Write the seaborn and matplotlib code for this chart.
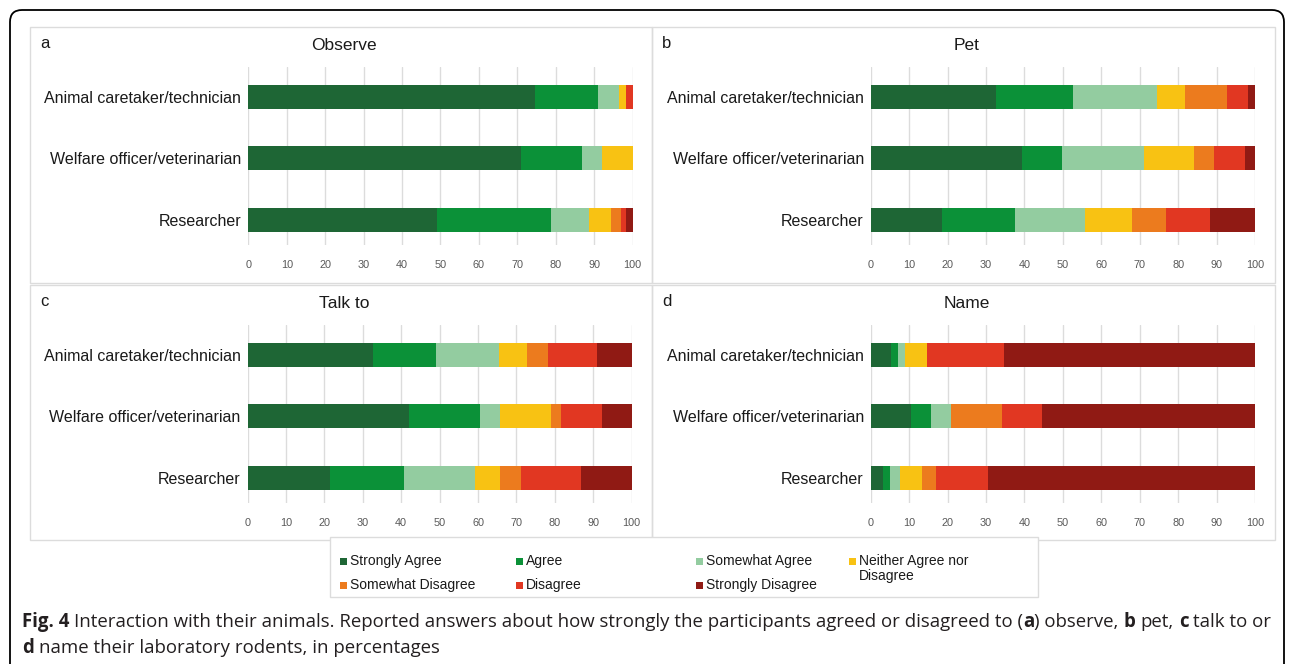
import matplotlib
matplotlib.use("Agg")
import matplotlib.pyplot as plt
from matplotlib.patches import Rectangle, FancyBboxPatch
from matplotlib.transforms import IdentityTransform
import numpy as np
import pandas as pd
import seaborn as sns

W, H = 1290, 664

roles = ["Animal caretaker/technician", "Welfare officer/veterinarian", "Researcher"]
answers = ["Strongly Agree", "Agree", "Somewhat Agree", "Neither Agree nor Disagree",
           "Somewhat Disagree", "Disagree", "Strongly Disagree"]
legend_labels = ["Strongly Agree", "Agree", "Somewhat Agree", "Neither Agree nor\nDisagree",
                 "Somewhat Disagree", "Disagree", "Strongly Disagree"]
colors = ["#1e6635", "#0b9138", "#93cca0", "#f8c213", "#ec7b1e", "#e13722", "#901a14"]

# percentages per role, in answer order
observe = [
    [74.6, 16.3, 5.5, 1.9, 0.0, 1.7, 0.0],
    [70.9, 16.0, 5.2, 7.9, 0.0, 0.0, 0.0],
    [49.0, 29.7, 9.9, 5.8, 2.7, 1.3, 1.6],
]
pet = [
    [32.6, 20.1, 21.7, 7.4, 10.9, 5.5, 1.8],
    [39.3, 10.6, 21.1, 13.1, 5.3, 8.0, 2.6],
    [18.5, 19.1, 18.2, 12.2, 8.8, 11.4, 11.8],
]
talk_to = [
    [32.7, 16.4, 16.4, 7.3, 5.3, 12.9, 9.0],
    [42.1, 18.4, 5.2, 13.3, 2.6, 10.6, 7.8],
    [21.6, 19.1, 18.6, 6.4, 5.5, 15.5, 13.3],
]
name = [
    [5.3, 1.9, 1.7, 5.7, 0.0, 20.0, 65.4],
    [10.5, 5.3, 5.2, 0.0, 13.1, 10.6, 55.3],
    [3.3, 1.6, 2.6, 5.8, 3.8, 13.3, 69.6],
]

panel_letters = ["a", "b", "c", "d"]
panel_titles = ["Observe", "Pet", "Talk to", "Name"]
panel_data = [observe, pet, talk_to, name]

sns.set_theme(style="white")
plt.rcParams["font.family"] = ["Liberation Sans", "DejaVu Sans"]

fig = plt.figure(figsize=(W / 100, H / 100), dpi=100)
fig.patch.set_facecolor("white")


def fx(x):
    return x / W


def fy(y):
    return 1 - y / H


def box(x0, y0, x1, y1, **kw):
    fig.add_artist(Rectangle((fx(x0), fy(y1)), (x1 - x0) / W, (y1 - y0) / H,
                             transform=fig.transFigure, **kw))


# outer rounded frame
frame = FancyBboxPatch((10, -20), 1274, H - 10 + 20, boxstyle="round,pad=0,rounding_size=12",
                       transform=IdentityTransform(), fill=False, edgecolor="black", linewidth=1.3)
fig.add_artist(frame)

# panel frames: (x0, y0, x1, y1) and axes spots (left, right, top, bottom)
frames = [(30, 27, 652, 283), (652, 27, 1275, 283), (30, 285, 652, 540), (652, 285, 1275, 540)]
spots = [(248.3, 632.5, 67, 245), (870.7, 1255, 67, 245),
         (247.5, 631.7, 325, 503), (870.7, 1255, 325, 503)]

for (x0, y0, x1, y1) in frames:
    box(x0, y0, x1, y1, fill=False, edgecolor="#dcdcdc", linewidth=1)


def draw_panel(ax, values):
    df = pd.DataFrame(values, index=roles, columns=answers)
    cum = df.cumsum(axis=1).reset_index(names="role")
    long = cum.melt(id_vars="role", var_name="answer", value_name="cum")
    # stack by overlaying cumulative bars, widest first
    for ans, col in reversed(list(zip(answers, colors))):
        sns.barplot(data=long[long["answer"] == ans], x="cum", y="role", order=roles,
                    color=col, saturation=1, width=0.39, linewidth=0,
                    errorbar=None, ax=ax)
    ax.set_xlim(0, 100)
    ax.set_ylim(2.41, -0.49)
    ax.set_xticks(range(0, 101, 10))
    ax.grid(axis="x", color="#dcdcdc", linewidth=1)
    ax.set_axisbelow(True)
    sns.despine(ax=ax, left=True, bottom=True)
    ax.tick_params(length=0)
    ax.tick_params(axis="x", labelsize=7.8, labelcolor="#595959", pad=11)
    ax.tick_params(axis="y", labelsize=11.5, labelcolor="#1a1a1a", pad=5)
    ax.set_xlabel("")
    ax.set_ylabel("")


for i in range(4):
    left, right, top, bottom = spots[i]
    ax = fig.add_axes([fx(left), fy(bottom), (right - left) / W, (bottom - top) / H])
    draw_panel(ax, panel_data[i])
    x0, y0, x1, y1 = frames[i]
    fig.text(fx(x0 + 10), fy(y0 + 16), panel_letters[i], fontsize=12, color="#1a1a1a",
             ha="left", va="center")
    fig.text(fx((x0 + x1) / 2 + 3), fy(y0 + 18), panel_titles[i], fontsize=12.5,
             color="#1a1a1a", ha="center", va="center")

# legend box
box(330, 537, 1038, 597, facecolor="white", edgecolor="#dcdcdc", linewidth=1, zorder=3)
col_x = [340, 516, 696, 849]
row_y = [562, 586]
order = [(0, 0), (0, 1), (0, 2), (0, 3), (1, 0), (1, 1), (1, 2)]
for lab, col, (r, c) in zip(legend_labels, colors, order):
    x, y = col_x[c], row_y[r]
    box(x, y - 4, x + 7, y + 3, facecolor=col, edgecolor="none", zorder=4)
    fig.text(fx(x + 10), fy(y - 8), lab, fontsize=10, color="#1a1a1a", ha="left", va="top",
             linespacing=1.1, zorder=4)

# caption with bold bits
cap_font = ["Open Sans", "DejaVu Sans"]
renderer = fig.canvas.get_renderer()


def text_width(s, size, weight):
    t = fig.text(0, 0, s, fontsize=size, fontweight=weight, family=cap_font)
    w = t.get_window_extent(renderer).width
    t.remove()
    return w


def rich_line(x, y, parts, size):
    for s, weight in parts:
        space = text_width("a a", size, weight) - text_width("aa", size, weight)
        if s.startswith(" "):
            x += space
        core = s.strip()
        t = fig.text(fx(x), fy(y), core, fontsize=size, fontweight=weight, family=cap_font,
                     color="#231f20", ha="left", va="baseline")
        x += t.get_window_extent(renderer).width
        if s.endswith(" "):
            x += space


cap_size = 13.4
rich_line(22, 627, [("Fig. 4", "bold"),
                    (" Interaction with their animals. Reported answers about how strongly the "
                     "participants agreed or disagreed to (", "normal"),
                    ("a", "bold"), (") observe, ", "normal"), ("b", "bold"),
                    (" pet, ", "normal"), ("c", "bold"), (" talk to or", "normal")], cap_size)
rich_line(22, 653, [("d", "bold"), (" name their laboratory rodents, in percentages", "normal")],
          cap_size)

fig.savefig("out.png", dpi=100)
